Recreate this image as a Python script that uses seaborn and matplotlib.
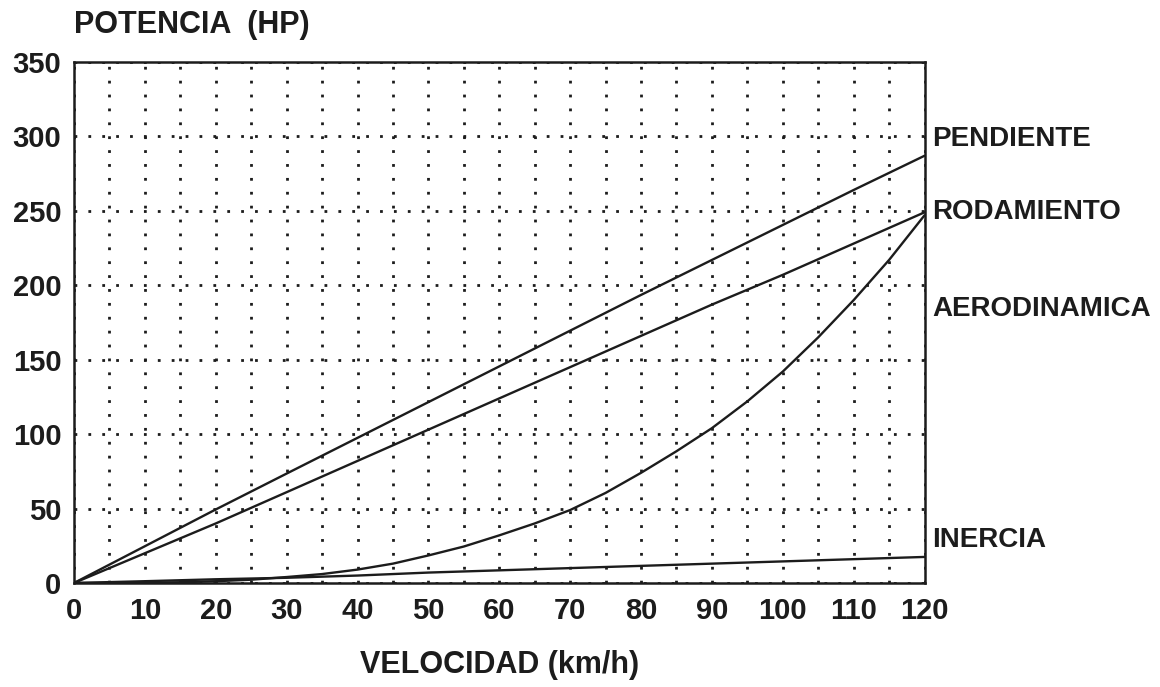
import matplotlib
matplotlib.use("Agg")
import matplotlib.pyplot as plt
import matplotlib.ticker as mtick
import seaborn as sns
import pandas as pd

#%% dados
velocidad = [0, 10, 20, 30, 40, 50, 60, 70, 80, 90, 100, 110, 120]
pendiente = [0, 24.7, 49.4, 73.5, 97.5, 121.5, 145.5, 169.5, 193.5, 217, 240.5, 264, 287]
rodamiento = [0, 20, 40, 61, 82, 103, 124, 145, 166, 187, 207, 228, 249]
inercia = [0, 1.2, 2.5, 3.5, 5, 7, 8.5, 10, 11.5, 13, 14.5, 16, 17.5]

# a curva aerodinâmica foi lida a cada 5 km/h por ser curva
velocidad_aero = [0, 5, 10, 15, 20, 25, 30, 35, 40, 45, 50, 55, 60,
                  65, 70, 75, 80, 85, 90, 95, 100, 105, 110, 115, 120]
aerodinamica = [0, 0, 0.2, 0.5, 1.2, 2.2, 4, 6, 9, 13, 18.5, 24.5, 32,
                40, 49, 60.5, 74, 88.5, 104, 122, 142, 165, 190, 217, 247]

curvas = ["PENDIENTE", "RODAMIENTO", "AERODINAMICA", "INERCIA"]
x_ticks = [0, 10, 20, 30, 40, 50, 60, 70, 80, 90, 100, 110, 120]
y_ticks = [0, 50, 100, 150, 200, 250, 300, 350]

series = {
    "PENDIENTE": (velocidad, pendiente),
    "RODAMIENTO": (velocidad, rodamiento),
    "AERODINAMICA": (velocidad_aero, aerodinamica),
    "INERCIA": (velocidad, inercia),
}
df = pd.concat(
    [pd.DataFrame({"vel": xs, "pot": ys, "curva": nome}) for nome, (xs, ys) in series.items()],
    ignore_index=True,
)

#%% estilo
sns.set_style("white")
plt.rcParams["font.family"] = ["Liberation Sans", "DejaVu Sans"]
plt.rcParams["font.weight"] = "bold"

preto = "#1c1c1c"

fig = plt.figure(figsize=(11.6, 6.87), dpi=100)
ax = fig.add_axes([0.0638, 0.1514, 0.7332, 0.7584])

sns.lineplot(data=df, x="vel", y="pot", hue="curva", hue_order=curvas,
             palette=[preto] * 4, legend=False, linewidth=1.7, ax=ax)

ax.set_xlim(0, 120)
ax.set_ylim(0, 350)
ax.set_xticks(x_ticks)
ax.set_yticks(y_ticks)
ax.xaxis.set_minor_locator(mtick.MultipleLocator(5))

# grade pontilhada
estilo_grade = dict(color=preto, linestyle=(0, (1, 4)), linewidth=2.0)
ax.grid(True, axis="x", which="both", **estilo_grade)
ax.grid(True, axis="y", which="major", **estilo_grade)

ax.tick_params(axis="both", which="both", length=0, labelsize=21, colors=preto)
ax.tick_params(axis="x", pad=10)
ax.tick_params(axis="y", pad=9)
for lab in ax.get_xticklabels() + ax.get_yticklabels():
    lab.set_fontweight("bold")

for s in ax.spines.values():
    s.set_visible(True)
    s.set_color(preto)
    s.set_linewidth(1.8)

ax.set_xlabel("VELOCIDAD (km/h)", fontsize=22, fontweight="bold", color=preto, labelpad=18)
ax.set_ylabel("")
fig.text(0.064, 0.963, "POTENCIA  (HP)", fontsize=22, fontweight="bold",
         color=preto, ha="left", va="center")

# rótulos das curvas à direita
pos_rotulos = {"PENDIENTE": 298, "RODAMIENTO": 249.5, "AERODINAMICA": 184, "INERCIA": 29}
for nome in curvas:
    ax.text(121.1, pos_rotulos[nome], nome, fontsize=20, fontweight="bold",
            color=preto, ha="left", va="center", clip_on=False)

fig.savefig("out.png", dpi=100, facecolor="white")
